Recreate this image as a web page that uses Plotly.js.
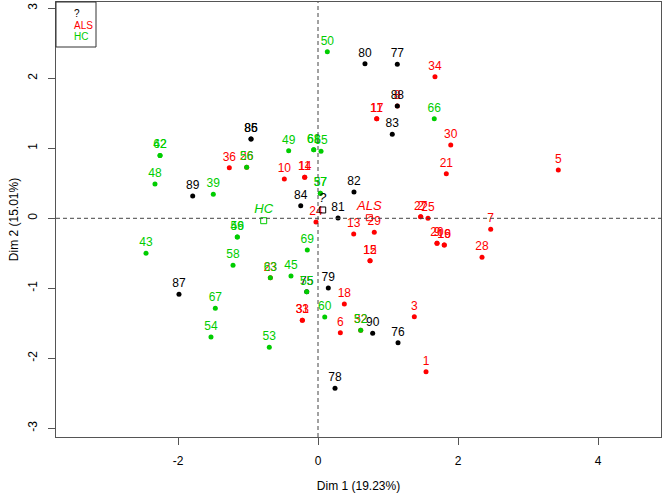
<!DOCTYPE html>
<html>
<head>
<meta charset="utf-8">
<script src="https://cdn.plot.ly/plotly-3.0.1.min.js"></script>
<style>html,body{margin:0;padding:0;background:#fff}#chart{width:664px;height:497px}</style>
</head>
<body>
<div id="chart"></div>
<script>
// ALS group (red)
const alsLabels = ["1","3","5","6","7","10","14","11","13","15","12","16","19","17","11","18","20","9","21","24","25","27","2","28","29","30","31","33","34","36","26","23","32","8"];
const alsX = [1.543,1.376,3.433,0.319,2.467,-0.481,-0.190,-0.190,0.510,0.743,0.743,1.804,1.804,0.839,0.839,0.376,1.700,1.700,1.833,-0.029,1.571,1.467,1.467,2.343,0.804,1.896,-0.224,-0.224,1.671,-1.267,-1.019,-0.681,0.610,1.133];
const alsY = [-2.191,-1.406,0.690,-1.634,-0.157,0.561,0.586,0.586,-0.224,-0.606,-0.606,-0.381,-0.381,1.423,1.423,-1.224,-0.357,-0.357,0.637,-0.053,0.000,0.023,0.023,-0.557,-0.200,1.047,-1.457,-1.457,2.023,0.723,0.729,-0.849,-1.600,1.604];

// HC group (green)
const hcLabels = ["42","62","48","39","56","49","68","61","65","50","66","37","57","59","46","43","58","63","45","69","55","60","67","54","53","52"];
const hcX = [-2.257,-2.257,-2.329,-1.496,-1.019,-0.419,-0.061,-0.061,0.043,0.133,1.661,0.033,0.033,-1.153,-1.153,-2.457,-1.214,-0.681,-0.386,-0.153,-0.161,0.096,-1.467,-1.529,-0.696,0.610];
const hcY = [0.899,0.899,0.490,0.343,0.729,0.966,0.980,0.980,0.957,2.380,1.423,0.357,0.357,-0.267,-0.267,-0.500,-0.671,-0.849,-0.824,-0.453,-1.049,-1.410,-1.286,-1.696,-1.843,-1.600];

// Unknown group "?" (black)
const unkLabels = ["75","76","77","78","79","80","81","82","83","84","85","86","87","88","89","90"];
const unkX = [-0.161,1.143,1.133,0.243,0.147,0.671,0.286,0.514,1.061,-0.247,-0.957,-0.957,-1.986,1.133,-1.790,0.781];
const unkY = [-1.049,-1.777,2.200,-2.429,-0.996,2.209,0.004,0.376,1.200,0.180,1.133,1.133,-1.086,1.604,0.319,-1.643];

// Group centroids
const centroidNames = ["?","ALS","HC"];
const centroidX = [0.067,0.733,-0.776];
const centroidY = [0.119,0.009,-0.034];

const legendNames = ["?","ALS","HC"];

const RED = "#FF0000", GREEN = "#00CD00", BLACK = "#000000";
const centroidColors = [BLACK, RED, GREEN];
const FONT = "Liberation Sans, Arial, Helvetica, sans-serif";

function grp(x, y, labels, color) {
  return {
    type: "scatter", mode: "markers+text", x: x, y: y, text: labels,
    textposition: "top center",
    textfont: {family: FONT, size: 12, color: color},
    marker: {color: color, size: 5},
    hoverinfo: "text", showlegend: false, cliponaxis: false
  };
}

const traces = [
  grp(alsX, alsY, alsLabels, RED),
  grp(unkX, unkY, unkLabels, BLACK),
  grp(hcX, hcY, hcLabels, GREEN),
  {
    type: "scatter", mode: "markers+text", x: centroidX, y: centroidY,
    text: centroidNames.map(s => "<i>" + s + "</i>"),
    textposition: "top center",
    textfont: {family: FONT, size: 13, color: centroidColors},
    marker: {symbol: "square-open", size: 6, color: centroidColors, line: {width: 1}},
    showlegend: false, cliponaxis: false
  }
];

const legendColors = [BLACK, RED, GREEN];
const annotations = legendNames.map((n, i) => ({
  xref: "paper", yref: "paper", x: 0, y: 1, xanchor: "left", yanchor: "middle",
  xshift: 16, yshift: -11.5 - i * 11.7, showarrow: false, text: n,
  font: {family: FONT, size: 10, color: legendColors[i]}
}));

const layout = {
  width: 664, height: 497,
  margin: {l: 56, r: 3, t: 2, b: 60, pad: 0},
  paper_bgcolor: "#fff", plot_bgcolor: "#fff",
  font: {family: FONT, size: 12, color: "#000"},
  xaxis: {
    range: [-3.743, 4.9], tickvals: [-2, 0, 2, 4], ticktext: ["-2","0","2","4"],
    ticks: "outside", ticklen: 7, tickcolor: "#555", tickwidth: 1, ticklabelstandoff: 6,
    showgrid: false, zeroline: false, showline: true, linecolor: "#555", linewidth: 1, mirror: true,
    tickfont: {family: FONT, size: 12, color: "#000"},
    title: {text: "Dim 1 (19.23%)", font: {family: FONT, size: 12, color: "#000"}, standoff: 14}
  },
  yaxis: {
    range: [-3.124, 3.09], tickvals: [-3, -2, -1, 0, 1, 2, 3], ticktext: ["-3","-2","-1","0","1","2","3"],
    tickangle: -90,
    ticks: "outside", ticklen: 7, tickcolor: "#555", tickwidth: 1, ticklabelstandoff: 6,
    showgrid: false, zeroline: false, showline: true, linecolor: "#555", linewidth: 1, mirror: true,
    tickfont: {family: FONT, size: 12, color: "#000"},
    title: {text: "Dim 2 (15.01%)", font: {family: FONT, size: 12, color: "#000"}, standoff: 5}
  },
  shapes: [
    {type: "line", xref: "x", yref: "paper", x0: 0, x1: 0, y0: 0, y1: 1, line: {color: "#444", width: 1, dash: "4px,3px"}},
    {type: "line", xref: "paper", yref: "y", x0: 0, x1: 1, y0: 0, y1: 0, line: {color: "#444", width: 1, dash: "4px,3px"}},
    {type: "rect", xref: "paper", yref: "paper", x0: 0, x1: 40/605, y0: 1 - 45/435, y1: 1, line: {color: "#333", width: 1}, fillcolor: "rgba(0,0,0,0)"}
  ],
  annotations: annotations,
  showlegend: false
};

Plotly.newPlot("chart", traces, layout, {displayModeBar: false, staticPlot: true});
</script>
</body>
</html>
